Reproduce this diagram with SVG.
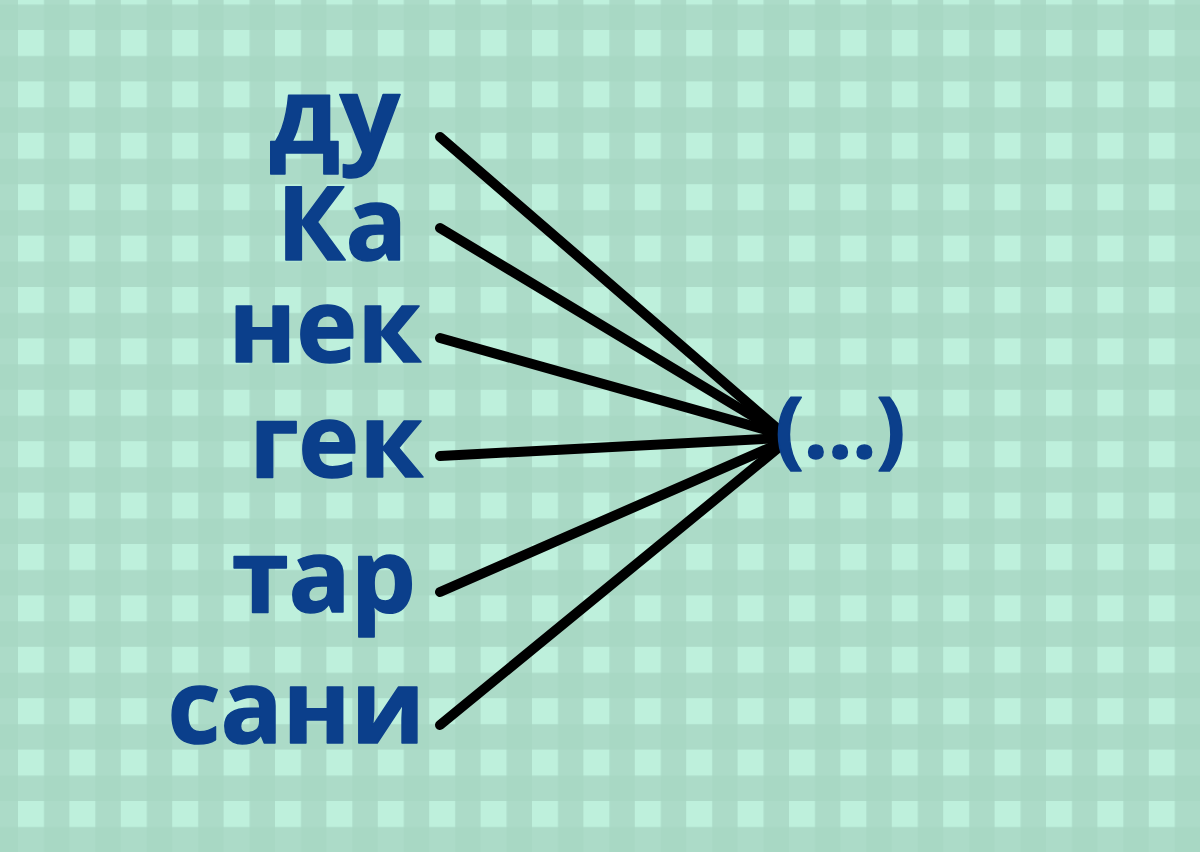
<svg xmlns="http://www.w3.org/2000/svg" width="1200" height="852" viewBox="0 0 1200 852">
<defs>
<pattern id="grid" patternUnits="userSpaceOnUse" x="18" y="30" width="51.4" height="51.4">
<rect x="0" y="0" width="51.4" height="51.4" fill="#a8d8c4"/>
<rect x="0" y="0" width="26" height="51.4" fill="#acdbc8"/>
<rect x="0" y="0" width="51.4" height="26" fill="#acdbc8"/>
<rect x="0" y="0" width="26" height="26" fill="#bef0dc"/>
</pattern>
<style>
.w{font-family:"Open Sans","Noto Sans","Liberation Sans",sans-serif;font-weight:700;fill:#0b3f8b;stroke:#0b3f8b;stroke-width:1.5;stroke-linejoin:round;text-anchor:end}
.c{stroke:#000;stroke-width:10;stroke-linecap:round;fill:none}
</style>
</defs>
<rect width="1200" height="852" fill="url(#grid)"/>
<g id="connectors">
<line class="c" x1="440" y1="137" x2="779" y2="430"/>
<line class="c" x1="440" y1="228" x2="779" y2="432"/>
<line class="c" x1="440" y1="338" x2="781" y2="434"/>
<line class="c" x1="440" y1="456" x2="783" y2="438"/>
<line class="c" x1="440" y1="592" x2="783" y2="442"/>
<line class="c" x1="440" y1="725" x2="783" y2="444"/>
</g>
<g id="n-du"><text class="w" x="400" y="153" font-size="106">ду</text></g>
<g id="n-ka"><text class="w" x="407" y="260" font-size="102">Ка</text></g>
<g id="n-nek"><text class="w" x="421" y="362" font-size="103">нек</text></g>
<g id="n-gek"><text class="w" x="423" y="477" font-size="103">гек</text></g>
<g id="n-tar"><text class="w" x="416" y="612" font-size="103">тар</text></g>
<g id="n-sani"><text class="w" x="425" y="743" font-size="103">сани</text></g>
<g id="n-target"><text class="w" x="775" y="458" font-size="85" style="text-anchor:start">(...)</text></g>
</svg>
